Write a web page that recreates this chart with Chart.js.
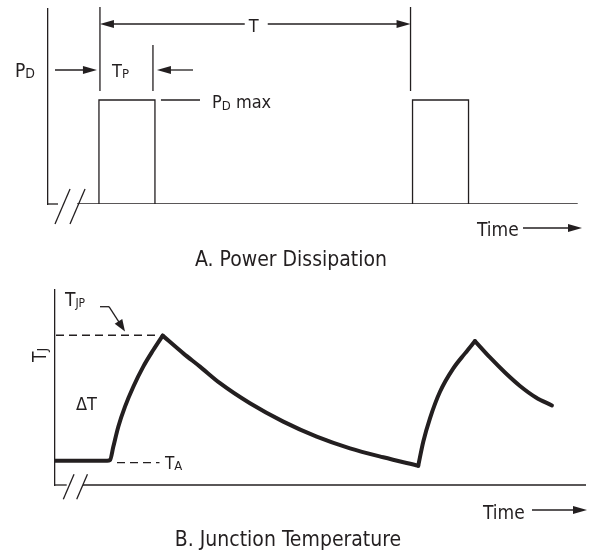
<!DOCTYPE html>
<html>
<head>
<meta charset="utf-8">
<script src="https://cdn.jsdelivr.net/npm/chart.js@4.4.1/dist/chart.umd.min.js"></script>
<style>
  html, body { margin: 0; padding: 0; background: #fff; }
  #wrap { position: relative; width: 589px; height: 552px; }
  canvas { position: absolute; left: 0; }
  #powerChart { top: 0; }
  #tempChart { top: 270px; }
</style>
</head>
<body>
<div id="wrap">
  <canvas id="powerChart" width="589" height="270"></canvas>
  <canvas id="tempChart" width="589" height="282"></canvas>
</div>
<script>
// A. power dissipation: time in units of Tp, power relative to PD max
const baselineTime = [-0.39, 8.55];
const pulseStart = [0, 5.6];
const pulseWidth = 1;
const period = 5.6;
const powerMax = 1;

// B. junction temperature (relative units, 0 = time axis)
const heat1Time = [-1.0, -0.05, 0, 0.06, 0.151, 0.273, 0.424, 0.605, 0.787, 0.958];
const heat1Temp = [12.5, 12.5, 12.8, 19.6, 29.9, 40.2, 50.4, 60.7, 69.2, 76.6];
const cool1Time = [0.958, 1.333, 1.636, 2.0, 2.545, 3.151, 3.758, 4.364, 4.969, 5.605];
const cool1Temp = [76.6, 67.5, 60.7, 52.2, 41.9, 32.5, 24.8, 18.8, 14.2, 9.9];
const heat2Time = [5.605, 5.696, 5.818, 6.0, 6.242, 6.455, 6.636];
const heat2Temp = [9.9, 22.2, 34.2, 47.8, 59.8, 67.5, 73.8];
const cool2Time = [6.636, 6.909, 7.182, 7.455, 7.745, 8.036];
const cool2Temp = [73.8, 65.4, 57.7, 50.8, 44.9, 40.8];
const tempAmbient = 11.5;
const tempPeak = 76.8;

const INK = '#231f20';
const FONT = "'Liberation Sans Narrow', 'DejaVu Sans Condensed', 'Liberation Sans', sans-serif";

function pts(xs, ys) {
  return xs.map((x, i) => ({ x: x, y: ys[i] }));
}

// outline of each pulse, separated by gaps
function pulsePoints() {
  const out = [];
  pulseStart.forEach(s => {
    out.push({ x: s, y: 0 }, { x: s, y: powerMax },
             { x: s + pulseWidth, y: powerMax }, { x: s + pulseWidth, y: 0 },
             { x: s + pulseWidth, y: null });
  });
  return out;
}

function arrow(ctx, x1, y1, x2, y2, len = 12, half = 4) {
  const a = Math.atan2(y2 - y1, x2 - x1);
  const c = Math.cos(a), s = Math.sin(a);
  ctx.beginPath();
  ctx.moveTo(x1, y1);
  ctx.lineTo(x2 - c * len * 0.6, y2 - s * len * 0.6);
  ctx.stroke();
  ctx.beginPath();
  ctx.moveTo(x2, y2);
  ctx.lineTo(x2 - c * len + s * half, y2 - s * len - c * half);
  ctx.lineTo(x2 - c * len - s * half, y2 - s * len + c * half);
  ctx.closePath();
  ctx.fill();
}

function line(ctx, x1, y1, x2, y2) {
  ctx.beginPath();
  ctx.moveTo(x1, y1);
  ctx.lineTo(x2, y2);
  ctx.stroke();
}

// main text + smaller subscript (+ optional trailing text)
function subText(ctx, x, y, main, sub, size, subSize, drop, after) {
  ctx.font = size + 'px ' + FONT;
  ctx.fillText(main, x, y);
  let w = ctx.measureText(main).width;
  ctx.font = subSize + 'px ' + FONT;
  ctx.fillText(sub, x + w, y + drop);
  w += ctx.measureText(sub).width;
  if (after) {
    ctx.font = size + 'px ' + FONT;
    ctx.fillText(after, x + w, y);
  }
}

function axisBreak(ctx, left, base, stubEnd, s1, s2, h) {
  line(ctx, left, base, stubEnd, base);
  line(ctx, s1, base + h * 0.57, s1 + h * 0.43, base - h * 0.43);
  line(ctx, s2, base + h * 0.57, s2 + h * 0.43, base - h * 0.43);
}

const powerNotes = {
  id: 'powerNotes',
  afterDraw(chart) {
    const { ctx, scales: { x, y } } = chart;
    const x0 = x.getPixelForValue(0);
    const xP = x.getPixelForValue(pulseWidth);
    const xT = x.getPixelForValue(period);
    const yMax = y.getPixelForValue(powerMax);
    const yBase = y.getPixelForValue(0);
    ctx.save();
    ctx.strokeStyle = INK;
    ctx.fillStyle = INK;
    ctx.lineWidth = 1.3;
    ctx.textBaseline = 'alphabetic';

    // period T
    line(ctx, x0 + 1, 7, x0 + 1, 91);
    line(ctx, xT - 2, 7, xT - 2, 91);
    const xm = (x0 + xT) / 2;
    arrow(ctx, xm - 11, 24, x0 + 1, 24, 14, 4);
    arrow(ctx, xm + 12, 24, xT - 2, 24, 14, 4);
    ctx.font = '18px ' + FONT;
    ctx.textAlign = 'center';
    ctx.fillText('T', xm - 2, 32);
    ctx.textAlign = 'left';

    // pulse width Tp
    line(ctx, xP - 2, 45, xP - 2, 91);
    arrow(ctx, 55, 70, x0 - 2, 70, 14, 4);
    arrow(ctx, 193, 70, xP + 2, 70, 14, 4);
    subText(ctx, 112, 77, 'T', 'P', 18, 13, 1);
    subText(ctx, 15, 77, 'P', 'D', 19, 14, 1);

    // PD max
    line(ctx, xP + 6, yMax, 200, yMax);
    subText(ctx, 212, 108, 'P', 'D', 18, 13, 1.5, ' max');

    axisBreak(ctx, chart.chartArea.left, yBase, 58, 55, 70, 35);

    // time arrow + caption
    ctx.font = '19px ' + FONT;
    ctx.fillText('Time', 477, 236);
    arrow(ctx, 523, 228, 582, 228, 14, 4);
    ctx.font = '21px ' + FONT;
    ctx.textAlign = 'center';
    ctx.fillText('A. Power Dissipation', 291, 266);
    ctx.restore();
  }
};

const tempNotes = {
  id: 'tempNotes',
  afterDraw(chart) {
    const { ctx, scales: { x, y } } = chart;
    const area = chart.chartArea;
    const yBase = y.getPixelForValue(0);
    const yPk = y.getPixelForValue(tempPeak);
    const yA = y.getPixelForValue(tempAmbient);
    ctx.save();
    ctx.strokeStyle = INK;
    ctx.fillStyle = INK;
    ctx.lineWidth = 1.3;

    // dashed reference levels
    ctx.setLineDash([8, 5]);
    line(ctx, area.left + 1, yPk, x.getPixelForValue(0.9), yPk);
    line(ctx, 117, yA, x.getPixelForValue(0.9), yA);
    ctx.setLineDash([]);

    subText(ctx, 165, 199, 'T', 'A', 17, 13, 1);
    subText(ctx, 65, 36, 'T', 'JP', 19, 12, 1);
    ctx.beginPath();
    ctx.moveTo(100, 36.7);
    ctx.lineTo(109, 36.7);
    ctx.stroke();
    arrow(ctx, 109, 36.7, 125, 61.5, 12, 4.5);

    ctx.font = '18px ' + FONT;
    ctx.fillText('\u0394T', 76, 140);

    // rotated TJ
    ctx.save();
    ctx.translate(46, 92);
    ctx.rotate(-Math.PI / 2);
    subText(ctx, 0, 0, 'T', 'J', 19, 14, 1);
    ctx.restore();

    // broken time axis
    axisBreak(ctx, area.left, yBase, 66.7, 63.3, 76.7, 25);
    line(ctx, 83, yBase, area.right, yBase);

    ctx.font = '19px ' + FONT;
    ctx.fillText('Time', 483, 249);
    arrow(ctx, 532, 240, 587, 240, 14, 4);
    ctx.font = '21px ' + FONT;
    ctx.textAlign = 'center';
    ctx.fillText('B. Junction Temperature', 288, 276);
    ctx.restore();
  }
};

const hiddenX = (min, max) => ({ type: 'linear', min: min, max: max, display: false });
const borderY = (min, max) => ({
  min: min, max: max,
  grid: { display: false, drawTicks: false },
  ticks: { display: false },
  border: { display: true, color: INK, width: 1.3 }
});

new Chart(document.getElementById('powerChart'), {
  type: 'line',
  data: {
    datasets: [{
      data: pts(baselineTime, baselineTime.map(() => 0)),
      borderColor: INK,
      borderWidth: 1.3,
      pointRadius: 0
    }, {
      data: pulsePoints(),
      borderColor: INK,
      borderWidth: 1.3,
      pointRadius: 0,
      spanGaps: false
    }]
  },
  options: {
    responsive: false,
    animation: false,
    layout: { padding: { left: 48, top: 9, right: 4, bottom: 66 } },
    plugins: { legend: { display: false }, tooltip: { enabled: false } },
    scales: { x: hiddenX(-0.91, 8.68), y: borderY(0, 1.875) }
  },
  plugins: [powerNotes]
});

const curve = (xs, ys) => ({
  data: pts(xs, ys),
  borderColor: INK,
  borderWidth: 4,
  pointRadius: 0,
  cubicInterpolationMode: 'monotone',
  borderCapStyle: 'round',
  borderJoinStyle: 'round'
});

new Chart(document.getElementById('tempChart'), {
  type: 'line',
  data: {
    datasets: [
      curve(heat1Time, heat1Temp),
      curve(cool1Time, cool1Temp),
      curve(heat2Time, heat2Temp),
      curve(cool2Time, cool2Temp)
    ]
  },
  options: {
    responsive: false,
    animation: false,
    layout: { padding: { left: 55, top: 20, right: 3, bottom: 67 } },
    plugins: { legend: { display: false }, tooltip: { enabled: false } },
    scales: { x: hiddenX(-1.0, 8.655), y: borderY(0, 100) }
  },
  plugins: [tempNotes]
});
</script>
</body>
</html>
